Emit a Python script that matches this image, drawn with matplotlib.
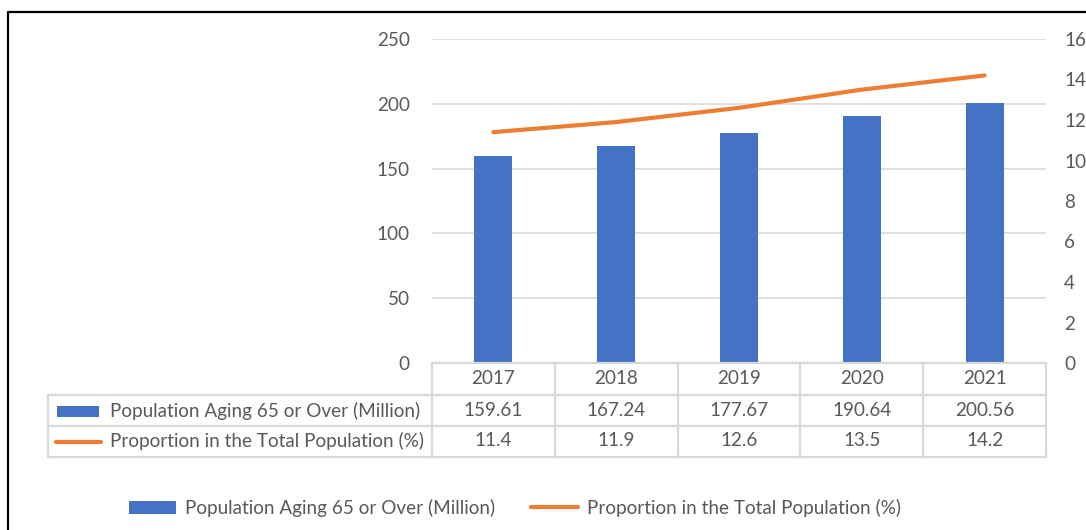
import matplotlib
matplotlib.use("Agg")
import matplotlib.pyplot as plt
from matplotlib.lines import Line2D
from matplotlib.patches import Rectangle
from matplotlib.transforms import blended_transform_factory

years = ["2017", "2018", "2019", "2020", "2021"]
population = [159.61, 167.24, 177.67, 190.64, 200.56]
proportion = [11.4, 11.9, 12.6, 13.5, 14.2]
pop_labels = ["159.61", "167.24", "177.67", "190.64", "200.56"]
prop_labels = ["11.4", "11.9", "12.6", "13.5", "14.2"]
series_names = ["Population Aging 65 or Over (Million)", "Proportion in the Total Population (%)"]
left_ticks = [0, 50, 100, 150, 200, 250]
right_ticks = [0, 2, 4, 6, 8, 10, 12, 14, 16]

BLUE = "#4472C4"
ORANGE = "#ED7D31"
TXT = "#595959"
GRID = "#D9D9D9"
FONT = "Lato"
FS = 13.6

W, H = 1086, 530
fig = plt.figure(figsize=(W / 100, H / 100), dpi=100)

def fx(x):
    return x / W

def fy(y):
    return 1 - y / H

ax = fig.add_axes([fx(432), fy(363), fx(1046) - fx(432), fy(39) - fy(363)])
ax2 = ax.twinx()

x = list(range(len(years)))
ax.bar(x, population, width=0.31, color=BLUE, zorder=3)
ax.set_xlim(-0.5, len(years) - 0.5)
ax.set_ylim(0, 250)
ax.set_yticks(left_ticks)
ax.yaxis.grid(True, color=GRID, linewidth=1.2, zorder=0)
ax.set_axisbelow(True)
ax.set_xticks([])

ax2.plot(x, proportion, color=ORANGE, linewidth=3, solid_capstyle="round", zorder=4)
ax2.set_ylim(0, 16)
ax2.set_yticks(right_ticks)

for a in (ax, ax2):
    for s in a.spines.values():
        s.set_visible(False)
    a.tick_params(axis="y", length=0, labelsize=FS, labelcolor=TXT)
    for lab in a.get_yticklabels():
        lab.set_fontfamily(FONT)
ax.tick_params(axis="y", pad=16)
ax2.tick_params(axis="y", pad=13)

# data table
bt = blended_transform_factory(ax.transData, fig.transFigure)
row_y = [363, 395, 426, 457]
col_x = [432 + k * (1046 - 432) / 5 for k in range(6)]
lw = 1.6
fig.add_artist(Line2D([fx(432), fx(1046)], [fy(363), fy(363)], color=GRID, lw=lw, transform=fig.transFigure))
for yy in row_y[1:]:
    fig.add_artist(Line2D([fx(48), fx(1046)], [fy(yy), fy(yy)], color=GRID, lw=lw, transform=fig.transFigure))
for xx in col_x:
    fig.add_artist(Line2D([fx(xx), fx(xx)], [fy(363), fy(457)], color=GRID, lw=lw, transform=fig.transFigure))
fig.add_artist(Line2D([fx(48), fx(48)], [fy(395), fy(457)], color=GRID, lw=lw, transform=fig.transFigure))

row_text_y = [379, 411, 441]
for i in x:
    fig.text(i, fy(row_text_y[0]), years[i], transform=bt, ha="center", va="center",
             fontsize=FS, color=TXT, fontfamily=FONT)
    fig.text(i, fy(row_text_y[1]), pop_labels[i], transform=bt, ha="center", va="center",
             fontsize=FS, color=TXT, fontfamily=FONT)
    fig.text(i, fy(row_text_y[2]), prop_labels[i], transform=bt, ha="center", va="center",
             fontsize=FS, color=TXT, fontfamily=FONT)

# table legend keys
fig.add_artist(Rectangle((fx(57), fy(417)), fx(99) - fx(57), fy(406) - fy(417),
                         facecolor=BLUE, edgecolor="none", transform=fig.transFigure))
fig.add_artist(Line2D([fx(56), fx(101)], [fy(442), fy(442)], color=ORANGE, lw=3,
                      solid_capstyle="round", transform=fig.transFigure))
fig.text(fx(110), fy(411), series_names[0], ha="left", va="center", fontsize=FS, color=TXT, fontfamily=FONT)
fig.text(fx(110), fy(441), series_names[1], ha="left", va="center", fontsize=FS, color=TXT, fontfamily=FONT)

# bottom legend
handles = [Rectangle((0, 0), 1, 1, facecolor=BLUE, edgecolor="none"),
           Line2D([0], [0], color=ORANGE, lw=3, solid_capstyle="round")]
leg = fig.legend(handles, series_names, loc="center", bbox_to_anchor=(fx(515), fy(508)),
                 ncol=2, frameon=False, handlelength=2.5, handletextpad=0.45, columnspacing=1.9,
                 prop={"family": FONT, "size": FS})
for t in leg.get_texts():
    t.set_color(TXT)

# outer frame
fig.add_artist(Line2D([fx(8), fx(8), fx(1086)], [fy(530), fy(12), fy(12)], color="black", lw=1.6,
                      transform=fig.transFigure))

fig.savefig("out.png", dpi=100)
